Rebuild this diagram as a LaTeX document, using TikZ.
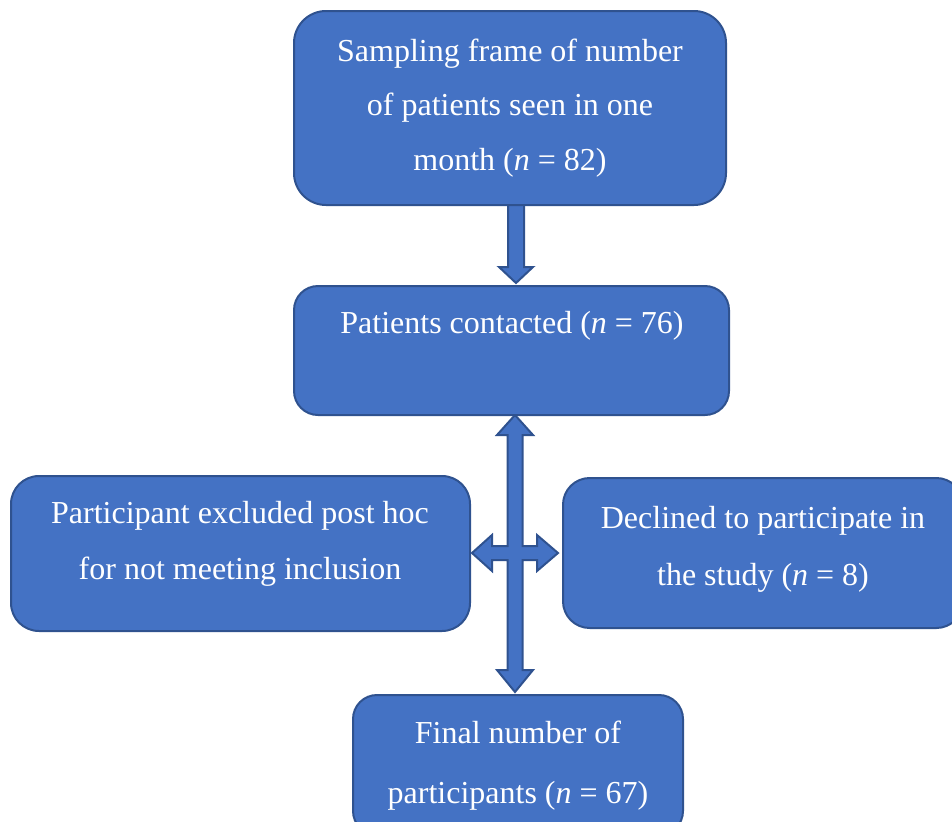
\documentclass[tikz,border=0pt]{standalone}
\usepackage{fontspec}
\setmainfont{Liberation Serif}
\usetikzlibrary{calc}
\definecolor{boxfill}{HTML}{4472C4}
\definecolor{boxline}{HTML}{2F528F}
\begin{document}
\begin{tikzpicture}[x=0.75pt,y=-0.75pt,
  box/.style={draw=boxline, fill=boxfill, line width=1.5pt, inner sep=0pt},
  blockarrow/.style={draw=boxline, fill=boxfill, line width=1.5pt, line join=miter},
  txt/.style={text=white, inner sep=0pt, anchor=base, font=\fontsize{24pt}{24pt}\selectfont}]
\useasboundingbox (0,0) rectangle (952,821);

% coordinates for the block-arrow connectors
\coordinate (a1) at (515.5,200);
\coordinate (c) at (515,553);

% arrow from box 1 to box 2
\draw[blockarrow] ($(a1)+(-7.5,0)$) -- ++(0,67) -- ++(-9,0) -- ++(17,16) -- ++(17,-16) -- ++(-9,0) -- ++(0,-67) -- cycle;

% four-way arrow
\draw[blockarrow] ($(c)+(0,-138)$) -- ++(18,20) -- ++(-10.5,0) -- ++(0,111) -- ++(14.5,0) -- ++(0,-11) -- ++(21,18) -- ++(-21,18) -- ++(0,-11) -- ++(-14.5,0) -- ++(0,110) -- ++(10.5,0) -- ++(-18,22) -- ++(-18,-22) -- ++(10.5,0) -- ++(0,-110) -- ++(-15.5,0) -- ++(0,11) -- ++(-20,-18) -- ++(20,-18) -- ++(0,11) -- ++(15.5,0) -- ++(0,-111) -- ++(-10.5,0) -- cycle;

% boxes
\node[box, minimum width=324pt, minimum height=145.5pt, rounded corners=24pt] (b1) at (510,108) {};
\node[box, minimum width=326.25pt, minimum height=96.75pt, rounded corners=18pt] (b2) at (511.5,350.5) {};
\node[box, minimum width=344.25pt, minimum height=116.25pt, rounded corners=21pt] (bl) at (240.5,553.5) {};
\node[box, minimum width=300pt, minimum height=112.5pt, rounded corners=20pt] (br) at (763,553) {};
\node[box, minimum width=247.5pt, minimum height=105pt, rounded corners=18pt] (bb) at (518,765) {};

% texts
\node[txt] (t1a) at (510,61) {Sampling frame of number};
\node[txt] (t1b) at (510,115) {of patients seen in one};
\node[txt] (t1c) at (510,170) {month (\textit{n} = 82)};
\node[txt] (t2) at (512,333) {Patients contacted (\textit{n} = 76)};
\node[txt] (tla) at (240,523) {Participant excluded post hoc};
\node[txt] (tlb) at (240,579) {for not meeting inclusion};
\node[txt] (tra) at (763,528) {Declined to participate in};
\node[txt] (trb) at (763,585) {the study (\textit{n} = 8)};
\node[txt] (tba) at (518,743) {Final number of};
\node[txt] (tbb) at (518,803) {participants (\textit{n} = 67)};
\end{tikzpicture}
\end{document}
